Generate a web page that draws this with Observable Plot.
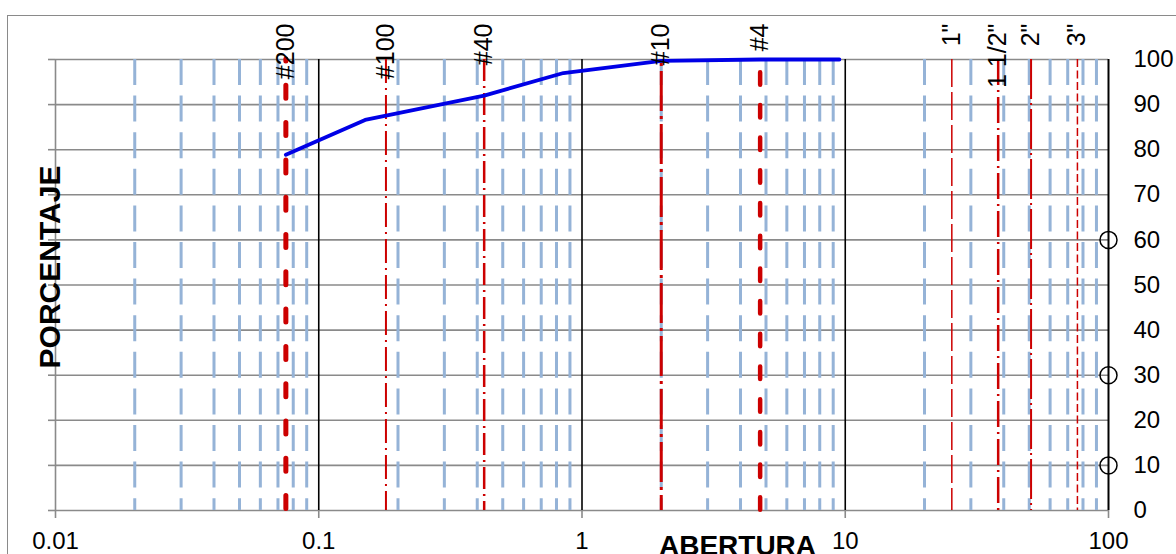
<!DOCTYPE html>
<html>
<head>
<meta charset="utf-8">
<script src="https://cdn.jsdelivr.net/npm/d3@7"></script>
<script src="https://cdn.jsdelivr.net/npm/@observablehq/plot@0.6"></script>
<style>
  html, body { margin: 0; padding: 0; background: white; overflow: hidden; }
  #wrap { position: relative; width: 1176px; height: 554px; }
  #wrap svg { position: absolute; left: 0; top: 0; }
  #border { position: absolute; left: 7px; top: 15px; width: 1200px; height: 600px;
            border: 1.5px solid #8a8a8a; pointer-events: none; }
</style>
</head>
<body>
<div id="wrap"><div id="border"></div></div>
<script>
// ---- data ----
const sieveLabels = ["#200", "#100", "#40", "#10", "#4", "1\"", "1 1/2\"", "2\"", "3\""];
const sieveSizes  = [0.075, 0.18, 0.425, 2.0, 4.75, 25.4, 38.1, 50.8, 76.2];
const curveSizes   = [0.075, 0.15, 0.425, 0.85, 2.0, 4.75, 9.5];
const curvePercent = [78.9, 86.6, 92.0, 97.0, 99.7, 100, 100];
const markerPercent = [10, 30, 60];
const yTicks = [0, 10, 20, 30, 40, 50, 60, 70, 80, 90, 100];
const xTicks = [0.01, 0.1, 1, 10, 100];
const xTickLabels = ["0.01", "0.1", "1", "10", "100"];
const majorLines = [0.1, 1, 10];
const minorLines = [
  0.02, 0.03, 0.04, 0.05, 0.06, 0.07, 0.08, 0.09,
  0.2, 0.3, 0.4, 0.5, 0.6, 0.7, 0.8, 0.9,
  2, 3, 4, 5, 6, 7, 8, 9,
  20, 30, 40, 50, 60, 70, 80, 90
];

// ---- styles for sieve lines (same order as sieveSizes) ----
const red = "#cc0000";
const sieveStyles = [
  {strokeWidth: 5,   strokeDasharray: "13,24.3", strokeDashoffset: 11, strokeLinecap: "round"},
  {strokeWidth: 2,   strokeDasharray: "24,5,2,5"},
  {strokeWidth: 2.5, strokeDasharray: "22,5,2,5"},
  {strokeWidth: 3,   strokeDasharray: "40,5,3,5", strokeDashoffset: -12},
  {strokeWidth: 4.5, strokeDasharray: "12.5,20.2", strokeDashoffset: 19.5, strokeLinecap: "round"},
  {strokeWidth: 1.5, strokeDasharray: "28,5"},
  {strokeWidth: 2.5, strokeDasharray: "26,5,2,5"},
  {strokeWidth: 2,   strokeDasharray: "40,4,2,4"},
  {strokeWidth: 1.5, strokeDasharray: "8,3.5"}
];

const curve = curveSizes.map((s, i) => ({size: s, pct: curvePercent[i]}));
const yTopFn = () => 100, yBottomFn = () => 0;
const xLabel = d => xTickLabels[xTicks.indexOf(d)];

const chart = Plot.plot({
  width: 1176,
  height: 554,
  marginLeft: 55,
  marginRight: 68,
  marginTop: 59,
  marginBottom: 44,
  style: {fontFamily: "'Liberation Sans', Arial, sans-serif", background: "white", color: "black"},
  x: {type: "log", domain: [0.01, 100]},
  y: {domain: [0, 100]},
  marks: [
    Plot.gridY({ticks: yTicks, stroke: "#8a8a8a", strokeOpacity: 1, strokeWidth: 1.6}),
    Plot.axisY({anchor: "left", ticks: yTicks, tickSize: 7, tickFormat: () => "", stroke: "#8a8a8a", strokeWidth: 1.6, label: null}),
    Plot.ruleX(minorLines, {x: d => d, y1: yTopFn, y2: yBottomFn, stroke: "#95b3d7", strokeWidth: 3, strokeDasharray: "26,10.6"}),
    Plot.ruleX([0.01], {x: d => d, y1: yTopFn, y2: yBottomFn, stroke: "#8a8a8a", strokeWidth: 1.6}),
    Plot.ruleX(majorLines, {x: d => d, y1: yTopFn, y2: yBottomFn, stroke: "black", strokeWidth: 1.6}),
    Plot.ruleX([100], {x: d => d, y1: yTopFn, y2: yBottomFn, stroke: "black", strokeWidth: 2}),
    ...sieveSizes.map((s, i) => Plot.ruleX([s], {x: d => d, y1: yTopFn, y2: yBottomFn, stroke: red, ...sieveStyles[i]})),
    Plot.line(curve, {x: "size", y: "pct", stroke: "#0000e6", strokeWidth: 3.8, strokeLinejoin: "round"}),
    Plot.text(sieveSizes, {x: d => d, y: yTopFn, text: (d, i) => sieveLabels[i], rotate: -90, textAnchor: "end", dy: -36, fontSize: 25, fill: "black"}),
    Plot.dot(markerPercent, {x: () => 100, y: d => d, r: 8.5, stroke: "black", strokeWidth: 1.5, fill: "none"}),
    Plot.axisY({anchor: "right", ticks: yTicks, tickSize: 0, tickPadding: 25, fontSize: 24, label: null}),
    Plot.axisX({ticks: xTicks, tickFormat: () => "", tickSize: 8, stroke: "#8a8a8a", strokeWidth: 1.6, label: null}),
    Plot.text(xTicks, {x: d => d, frameAnchor: "bottom", text: xLabel, dy: 31, lineAnchor: "middle", fontSize: 24, fill: "black"}),
    Plot.text(["PORCENTAJE"], {frameAnchor: "left", text: d => d, rotate: -90, textAnchor: "middle", dx: -5, dy: -18, fontSize: 30, fontWeight: "bold", fill: "black"}),
    Plot.text(["ABERTURA"], {frameAnchor: "bottom", text: d => d, dx: 155.5, dy: 25, lineAnchor: "top", fontSize: 28, fontWeight: "bold", fill: "black"})
  ]
});
document.getElementById("wrap").insertBefore(chart, document.getElementById("border"));
</script>
</body>
</html>
